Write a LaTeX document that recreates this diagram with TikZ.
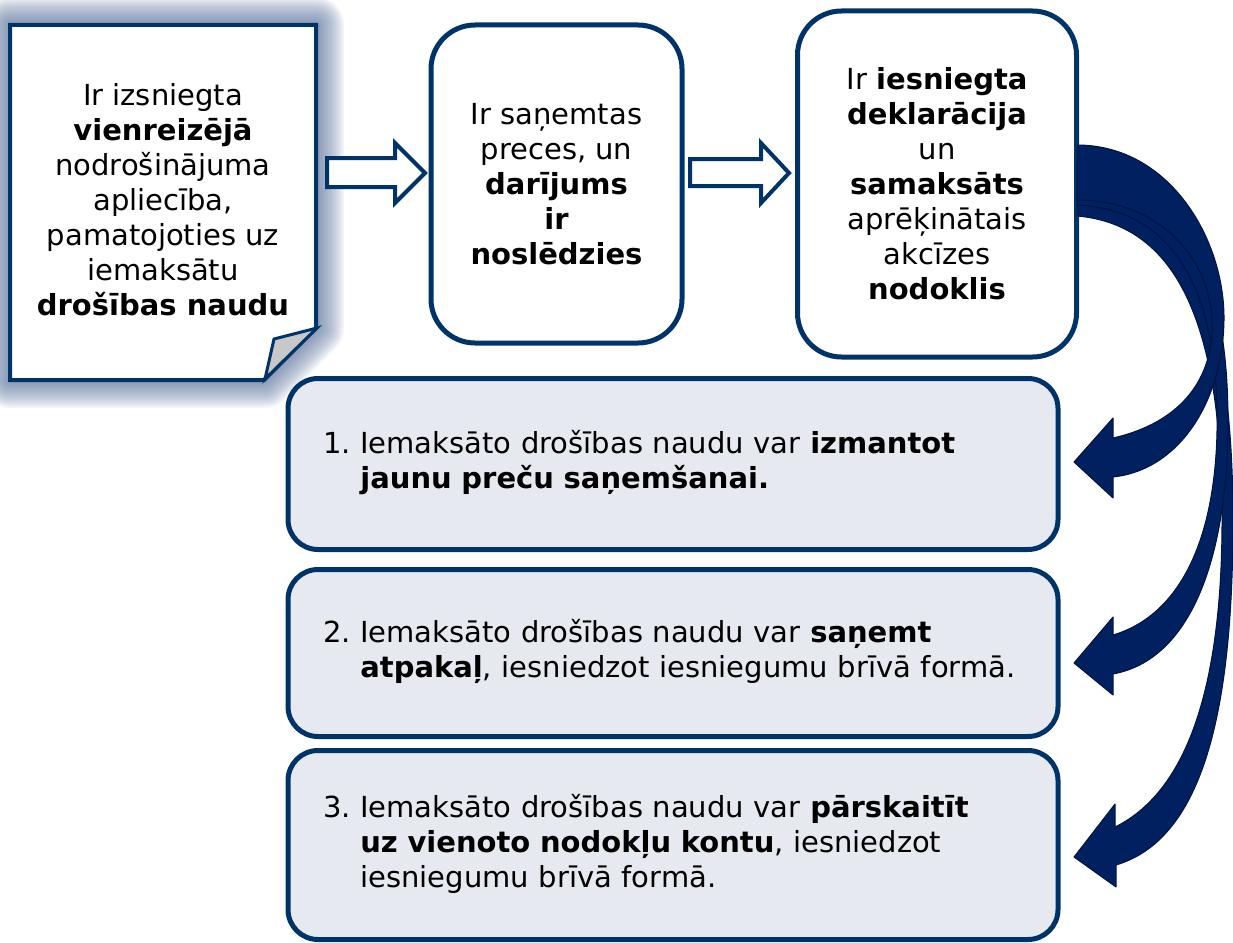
\documentclass[tikz,border=0pt]{standalone}
\usepackage{fontspec}
\setmainfont{DejaVu Sans}
\definecolor{bord}{RGB}{0,52,104}
\definecolor{navy}{RGB}{0,32,96}
\definecolor{navyline}{RGB}{0,20,66}
\definecolor{pale}{RGB}{230,233,239}
\definecolor{glow}{RGB}{80,105,150}
\definecolor{foldgray}{RGB}{200,200,200}
\begin{document}
\begin{tikzpicture}[x=1pt,y=-1pt,
  txt/.style={font=\fontsize{29}{35}\selectfont},
  topbox/.style={draw=bord, line width=5pt, fill=white, rounded corners=44pt, align=center, txt},
  listbox/.style={draw=bord, line width=5pt, fill=pale, rounded corners=30pt, align=left, text width=700pt, inner xsep=35pt, inner ysep=0pt, txt},
  hollow/.style={draw=bord, line width=4pt, fill=white, line join=miter},
  curved/.style={fill=navy, draw=navyline, line width=1pt, line join=round},
  glowline/.style={draw=glow, opacity=0.075, line join=round}]
\useasboundingbox (0,0) rectangle (1233,942);

% glow behind the paper
\foreach \w in {56,52,48,44,40,36,32,28,24,20,16,12,8}{
  \draw[glowline, line width=\w pt] (10,25) -- (316,25) -- (316,328) -- (264,380) -- (10,380) -- cycle;
}
% paper
\draw[draw=bord, line width=4pt, fill=white, line join=miter] (10,25) -- (316,25) -- (316,328) -- (264,380) -- (10,380) -- cycle;
\draw[draw=bord, line width=3pt, fill=foldgray, line join=miter] (317,328) -- (274,339) -- (265,379) -- cycle;
\node[txt, align=center] (b1) at (163,200) {Ir izsniegta\\\textbf{vienreizējā}\\nodrošinājuma\\apliecība,\\pamatojoties uz\\iemaksātu\\\textbf{drošības naudu}};

% top boxes
\node[topbox, minimum width=251pt, minimum height=318pt] (b2) at (556.5,184)
  {Ir saņemtas\\preces, un\\\textbf{darījums}\\\textbf{ir}\\\textbf{noslēdzies}};
\node[topbox, minimum width=279pt, minimum height=346pt] (b3) at (937,184)
  {Ir \textbf{iesniegta}\\\textbf{deklarācija}\\un\\\textbf{samaksāts}\\aprēķinātais\\akcīzes\\\textbf{nodoklis}};

% hollow arrows
\draw[hollow] (327,158) -- (395,158) -- (395,143) -- (425,173) -- (395,203) -- (395,187) -- (327,187) -- cycle;
\draw[hollow] (690,159) -- (761,159) -- (761,143) -- (789,173) -- (761,203) -- (761,186) -- (690,186) -- cycle;

% list boxes
\node[listbox, minimum width=769pt, minimum height=171pt] (l1) at (673,464)
  {\begin{tabular}{@{}l@{\ }l@{}}1. & Iemaksāto drošības naudu var \textbf{izmantot}\\ & \textbf{jaunu preču saņemšanai.}\end{tabular}};
\node[listbox, minimum width=769pt, minimum height=167pt] (l2) at (673,653)
  {\begin{tabular}{@{}l@{\ }l@{}}2. & Iemaksāto drošības naudu var \textbf{saņemt}\\ & \textbf{atpakaļ}, iesniedzot iesniegumu brīvā formā.\end{tabular}};
\node[listbox, minimum width=769pt, minimum height=189pt] (l3) at (673,845)
  {\begin{tabular}{@{}l@{\ }l@{}}3. & Iemaksāto drošības naudu var \textbf{pārskaitīt}\\ & \textbf{uz vienoto nodokļu kontu}, iesniedzot\\ & iesniegumu brīvā formā.\end{tabular}};

% curved arrows
\draw[curved] (1077,180) .. controls (1190,185) and (1233,320) .. (1233,520)
  .. controls (1233,720) and (1200,840) .. (1116,865)
  -- (1116,887) -- (1074,857) -- (1115,804) -- (1115,827)
  .. controls (1190,790) and (1222,680) .. (1222,520)
  .. controls (1222,330) and (1180,225) .. (1077,216) -- cycle;
\draw[curved] (1077,165) .. controls (1180,170) and (1228,270) .. (1228,420)
  .. controls (1228,560) and (1190,660) .. (1113,674)
  -- (1113,695) -- (1074,663) -- (1113,617) -- (1113,635)
  .. controls (1180,615) and (1215,540) .. (1217,430)
  .. controls (1219,300) and (1180,210) .. (1077,205) -- cycle;
\draw[curved] (1077,145) .. controls (1170,145) and (1225,240) .. (1224,320)
  .. controls (1223,400) and (1180,470) .. (1113,477)
  -- (1113,498) -- (1074,462) -- (1113,418) -- (1113,438)
  .. controls (1170,425) and (1210,390) .. (1212,330)
  .. controls (1214,260) and (1160,200) .. (1077,200) -- cycle;
\end{tikzpicture}
\end{document}
